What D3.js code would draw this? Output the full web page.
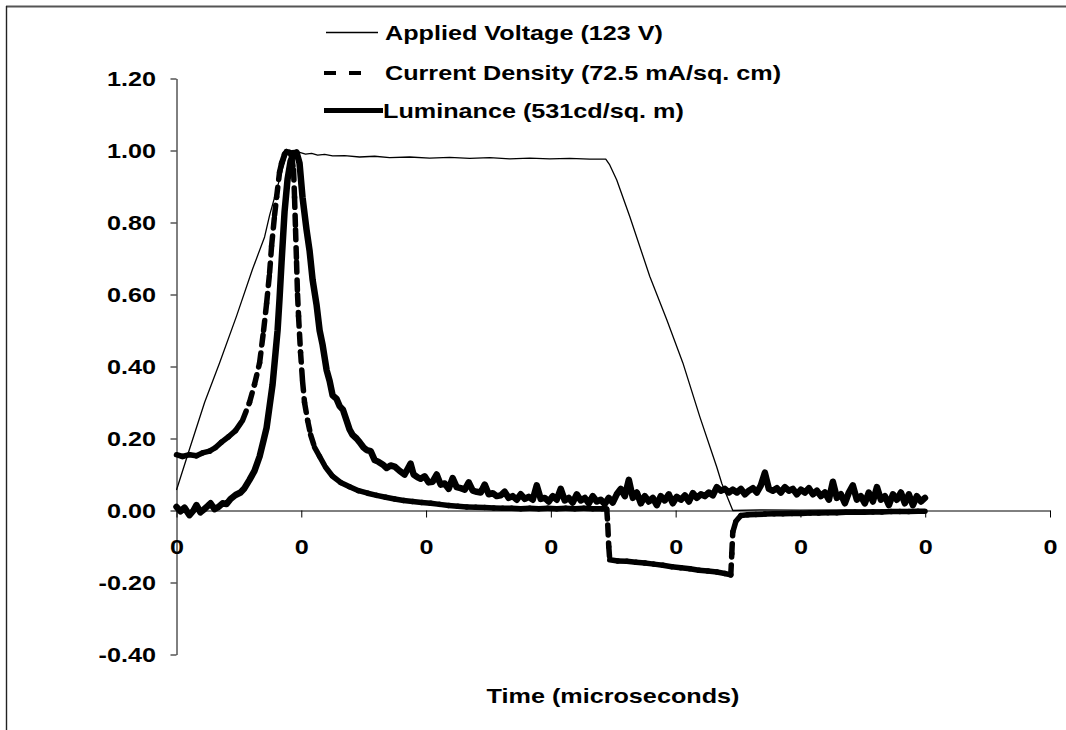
<!DOCTYPE html>
<html>
<head>
<meta charset="utf-8">
<script src="https://cdn.jsdelivr.net/npm/d3@7"></script>
<style>
  html, body { margin: 0; background: #fff; overflow: hidden; }
  svg { display: block; }
  text { font-family: "Liberation Sans", Arial, sans-serif; font-weight: bold; fill: #000; }
</style>
</head>
<body>
<div id="chart"></div>
<script>
// legend labels
const seriesNames = [
  "Applied Voltage (123 V)",
  "Current Density (72.5 mA/sq. cm)",
  "Luminance (531cd/sq. m)",
];

// axis ticks (time in microseconds, labels shown in seconds)
const xTicks = [0, 10, 20, 30, 40, 50, 60, 70];
const yTicks = [-0.4, -0.2, 0, 0.2, 0.4, 0.6, 0.8, 1.0, 1.2];
const xTitle = "Time (microseconds)";

// applied voltage (normalised)
const voltageTime = [0, 1.04, 2.25, 3.45, 4.81, 6.09, 7.06, 7.46, 8.02, 8.5, 8.82, 9.06, 9.38, 9.62, 9.94,
  10.34, 10.83, 11.31, 11.87, 12.51, 13.47, 14.67, 15.88, 17.08, 18.68, 20.29, 21.89, 23.5, 25.1, 26.7,
  28.31, 29.91, 31.51, 33.12, 34.4, 34.72, 35.28, 36.33, 37.93, 39.29, 40.58, 41.94, 43.3, 43.7, 44.58,
  46.75, 49.95, 53.96, 57.97, 59.98];
const voltageValue = [0.057, 0.17, 0.3, 0.41, 0.54, 0.67, 0.76, 0.82, 0.89, 0.95, 0.985, 0.998, 1.0, 0.997, 0.994,
  0.99, 0.992, 0.987, 0.989, 0.985, 0.986, 0.982, 0.984, 0.98, 0.982, 0.979, 0.981, 0.978, 0.98, 0.977,
  0.979, 0.977, 0.978, 0.976, 0.976, 0.96, 0.918, 0.816, 0.65, 0.53, 0.41, 0.26, 0.12, 0.075, 0.0,
  0.002, 0.001, 0.002, 0.001, 0.002];

// current density (normalised)
const currentTime = [0, 0.48, 1.04, 1.6, 2.08, 2.65, 3.13, 3.61, 4.17, 4.73, 5.29, 5.85,
  6.25, 6.66, 6.98, 7.22, 7.46, 7.62, 7.86, 8.02, 8.26, 8.42, 8.66, 8.82, 9.06, 9.22, 9.38, 9.46, 9.54,
  9.62, 9.7, 9.78, 9.94, 10.1, 10.26, 10.51, 10.75, 11.07, 11.47, 11.95, 12.51, 13.15, 13.87, 14.59,
  15.32, 16.04, 16.76, 17.48, 18.2, 18.92, 19.65, 20.37, 21.09, 21.81, 22.53, 23.26, 23.98, 24.7, 25.42,
  26.14, 26.86, 27.59, 28.31, 29.03, 29.75, 30.47, 31.19, 31.92, 32.64, 33.36, 34.08, 34.48,
  34.56, 34.64, 34.72, 35.36, 36.09, 36.81, 37.53, 38.25, 38.97, 39.69, 40.42, 41.14, 41.86, 42.58,
  43.3, 43.94, 44.42, 44.5, 44.58, 44.83, 45.23, 45.79, 46.43, 47.15, 47.87, 48.6, 49.32, 50.04, 50.76,
  51.48, 52.2, 52.92, 53.64, 54.37, 55.09, 55.81, 56.53, 57.25, 57.97, 58.7, 59.42, 59.98];
const currentValue = [0.155, 0.15, 0.155, 0.152, 0.16, 0.165, 0.175, 0.19, 0.205, 0.222, 0.25, 0.3,
  0.35, 0.41, 0.5, 0.575, 0.66, 0.735, 0.82, 0.87, 0.94, 0.965, 0.99, 0.997, 0.995, 0.985, 0.946, 0.87, 0.78,
  0.69, 0.6, 0.54, 0.44, 0.36, 0.3, 0.25, 0.21, 0.175, 0.15, 0.12, 0.095, 0.078, 0.066, 0.055,
  0.048, 0.042, 0.037, 0.032, 0.028, 0.025, 0.022, 0.02, 0.017, 0.014, 0.012, 0.01, 0.009, 0.008, 0.007,
  0.006, 0.006, 0.005, 0.006, 0.005, 0.006, 0.005, 0.006, 0.005, 0.006, 0.005, 0.005, 0.004,
  -0.04, -0.1, -0.137, -0.14, -0.141, -0.144, -0.146, -0.149, -0.152, -0.156, -0.159, -0.162, -0.166, -0.168,
  -0.171, -0.175, -0.179, -0.12, -0.06, -0.03, -0.014, -0.012, -0.011, -0.01, -0.009, -0.009, -0.008, -0.008, -0.007,
  -0.007, -0.006, -0.006, -0.005, -0.005, -0.005, -0.004, -0.004, -0.003, -0.003, -0.003, -0.002, -0.002];

// luminance (normalised)
const luminanceTime = [0, 0.32, 0.64, 1.04, 1.36, 1.6, 1.92, 2.17, 2.49, 2.73, 3.05, 3.37, 3.69, 4.01, 4.33,
  4.73, 5.13, 5.45, 5.85, 6.25, 6.66, 6.98, 7.22, 7.46, 7.7, 7.94, 8.1, 8.26, 8.42, 8.66, 8.9, 9.14, 9.38,
  9.62, 9.86, 10.1, 10.42, 10.67, 10.91, 11.23, 11.47, 11.71, 12.03, 12.27, 12.51, 12.83, 13.07, 13.34,
  13.63, 13.87, 14.11, 14.43, 14.67, 14.99, 15.24, 15.56, 15.88, 16.2, 16.52, 16.84, 17.16, 17.48, 17.88,
  18.28, 18.52, 18.76, 19.0, 19.33, 19.57, 19.89, 20.21, 20.53, 20.85, 21.17, 21.49, 21.81, 22.13, 22.45,
  22.77, 23.1, 23.42, 23.74, 24.06, 24.38, 24.7, 25.02, 25.34, 25.66, 25.98, 26.3, 26.62, 26.94, 27.26,
  27.59, 27.91, 28.23, 28.55, 28.87, 29.19, 29.51, 29.83, 30.15, 30.47, 30.79, 31.11, 31.43, 31.75, 32.08,
  32.4, 32.72, 33.04, 33.36, 33.68, 34.0, 34.32, 34.64, 34.96, 35.28, 35.6, 35.93, 36.25, 36.57, 36.89,
  37.21, 37.53, 37.85, 38.17, 38.49, 38.81, 39.13, 39.45, 39.77, 40.09, 40.42, 40.74, 41.06, 41.38, 41.7,
  42.02, 42.34, 42.66, 42.98, 43.3, 43.62, 43.94, 44.26, 44.58, 44.91, 45.23, 45.55, 45.87, 46.19, 46.51,
  46.83, 47.15, 47.47, 47.79, 48.11, 48.43, 48.75, 49.07, 49.39, 49.71, 50.04, 50.36, 50.68, 51.0, 51.32,
  51.64, 51.96, 52.28, 52.6, 52.92, 53.24, 53.56, 53.88, 54.2, 54.52, 54.84, 55.16, 55.48, 55.81, 56.13,
  56.45, 56.77, 57.09, 57.41, 57.73, 58.05, 58.37, 58.69, 59.01, 59.33, 59.66, 59.98];
const luminanceValue = [0.01, -0.002, 0.008, -0.013, 0.0, 0.015, -0.005, 0.002, 0.012, 0.02, 0.004, 0.01, 0.02, 0.018, 0.032,
  0.043, 0.05, 0.062, 0.085, 0.11, 0.15, 0.195, 0.23, 0.29, 0.35, 0.44, 0.5, 0.59, 0.69, 0.83, 0.92, 0.97, 0.99,
  0.995, 0.965, 0.87, 0.78, 0.72, 0.64, 0.57, 0.5, 0.46, 0.39, 0.36, 0.32, 0.31, 0.29, 0.28,
  0.25, 0.225, 0.21, 0.2, 0.19, 0.175, 0.168, 0.165, 0.14, 0.135, 0.128, 0.118, 0.125, 0.122, 0.11,
  0.1, 0.115, 0.13, 0.1, 0.092, 0.088, 0.095, 0.078, 0.08, 0.1, 0.072, 0.075, 0.06, 0.09, 0.065,
  0.062, 0.058, 0.078, 0.055, 0.052, 0.05, 0.072, 0.045, 0.048, 0.04, 0.042, 0.052, 0.035, 0.04, 0.03,
  0.045, 0.032, 0.038, 0.03, 0.07, 0.032, 0.035, 0.025, 0.04, 0.03, 0.06, 0.028, 0.035, 0.022, 0.045,
  0.028, 0.035, 0.02, 0.04, 0.025, 0.03, 0.018, 0.035, 0.022, 0.045, 0.06, 0.04, 0.085, 0.035, 0.05,
  0.02, 0.04, 0.025, 0.035, 0.015, 0.04, 0.028, 0.045, 0.02, 0.038, 0.03, 0.042, 0.025, 0.048, 0.035,
  0.045, 0.04, 0.05, 0.042, 0.065, 0.055, 0.06, 0.05, 0.058, 0.05, 0.06, 0.045, 0.055, 0.062, 0.05,
  0.07, 0.105, 0.06, 0.055, 0.062, 0.05, 0.065, 0.055, 0.06, 0.045, 0.058, 0.05, 0.062, 0.045, 0.055,
  0.04, 0.05, 0.03, 0.08, 0.035, 0.045, 0.02, 0.05, 0.07, 0.03, 0.04, 0.02, 0.05, 0.025, 0.065,
  0.03, 0.04, 0.015, 0.045, 0.03, 0.05, 0.02, 0.045, 0.015, 0.04, 0.025, 0.035];

function chart(params) {
  const container = d3.select(params.container);

  // define metrics of svg and chart
  const width = 1066;
  const height = 730;
  const plotLeft = 176.5;
  const plotRight = 1050;
  const plotTop = 78.5;
  const plotBottom = 654.5;
  const stretch = 1.26; // text in the original is wider than tall

  const svg = container
    .append("svg")
    .attr("width", width)
    .attr("height", height);

  // outer frame: only the top and left edges are inside the picture
  svg.append("line")
    .attr("x1", 6).attr("x2", width)
    .attr("y1", 6.5).attr("y2", 6.5)
    .attr("stroke", "#555")
    .attr("stroke-width", 1.8);
  svg.append("line")
    .attr("x1", 6.5).attr("x2", 6.5)
    .attr("y1", 6).attr("y2", height)
    .attr("stroke", "#222")
    .attr("stroke-width", 1.4);

  // scales
  const xScale = d3.scaleLinear().domain([0, 70]).range([plotLeft, plotRight]);
  const yScale = d3.scaleLinear().domain([-0.4, 1.2]).range([plotBottom, plotTop]);

  const locale = d3.formatLocale({ decimal: ".", thousands: ",", grouping: [3], currency: ["$", ""], minus: "-" });
  const yFormat = locale.format(".2f");
  const xFormat = (t) => locale.format(".0f")(t * 1e-6);

  // y axis
  const yAxis = svg.append("g")
    .attr("transform", `translate(${plotLeft},0)`)
    .call(d3.axisLeft(yScale).tickValues(yTicks).tickFormat(yFormat).tickSize(6).tickSizeOuter(0));

  // x axis at zero
  const xAxis = svg.append("g")
    .attr("transform", `translate(0,${yScale(0)})`)
    .call(d3.axisBottom(xScale).tickValues(xTicks).tickFormat(xFormat).tickSize(7).tickSizeOuter(0));

  [xAxis, yAxis].forEach((g) => {
    g.attr("font-family", null).attr("font-size", null);
    g.selectAll("path, line").attr("stroke", "#000").attr("stroke-width", 1);
    g.selectAll("text").attr("font-size", 20).attr("fill", "#000");
  });

  yAxis.selectAll("text")
    .attr("x", 0)
    .attr("dy", "0.33em")
    .attr("transform", `translate(-20.5,0) scale(${stretch},1)`);

  xAxis.selectAll("text")
    .attr("y", 0)
    .attr("dy", 0)
    .attr("transform", `translate(0,43) scale(${stretch},1)`);

  // axis title
  svg.append("text")
    .attr("text-anchor", "middle")
    .attr("font-size", 20)
    .attr("transform", `translate(613,703) scale(${stretch},1)`)
    .text(xTitle);

  // line generator
  const line = d3.line()
    .x((d) => xScale(d[0]))
    .y((d) => yScale(d[1]));

  const plot = svg.append("g").attr("class", "chart");

  // applied voltage, thin line
  plot.append("path")
    .datum(d3.zip(voltageTime, voltageValue))
    .attr("d", line)
    .attr("fill", "none")
    .attr("stroke", "#000")
    .attr("stroke-width", 1.3)
    .attr("stroke-linejoin", "round");

  // current density, dashes restart on every segment like the original
  plot.selectAll("path.current")
    .data(d3.pairs(d3.zip(currentTime, currentValue)))
    .join("path")
    .attr("class", "current")
    .attr("d", (d) => line(d))
    .attr("fill", "none")
    .attr("stroke", "#000")
    .attr("stroke-width", 5.5)
    .attr("stroke-linecap", "round")
    .attr("stroke-dasharray", "10,8");

  // luminance, thick solid line
  plot.append("path")
    .datum(d3.zip(luminanceTime, luminanceValue))
    .attr("d", line)
    .attr("fill", "none")
    .attr("stroke", "#000")
    .attr("stroke-width", 6.5)
    .attr("stroke-linejoin", "round")
    .attr("stroke-linecap", "round");

  // legend
  const legendRows = [
    { y: 32.5, x1: 326, x2: 378, w: 1.3, dash: null, tx: 385 },
    { y: 73, x1: 324, x2: 361, w: 4, dash: "12,13", tx: 385 },
    { y: 110.5, x1: 324, x2: 383, w: 5, dash: null, tx: 383 },
  ];

  const legend = svg.append("g").attr("class", "legend");
  legendRows.forEach((r, i) => {
    legend.append("line")
      .attr("x1", r.x1).attr("x2", r.x2)
      .attr("y1", r.y).attr("y2", r.y)
      .attr("stroke", "#000")
      .attr("stroke-width", r.w)
      .attr("stroke-dasharray", r.dash);
    legend.append("text")
      .attr("font-size", 20)
      .attr("transform", `translate(${r.tx},${r.y + 7}) scale(${stretch},1)`)
      .text(seriesNames[i]);
  });
}

chart({ container: "#chart" });
</script>
</body>
</html>
